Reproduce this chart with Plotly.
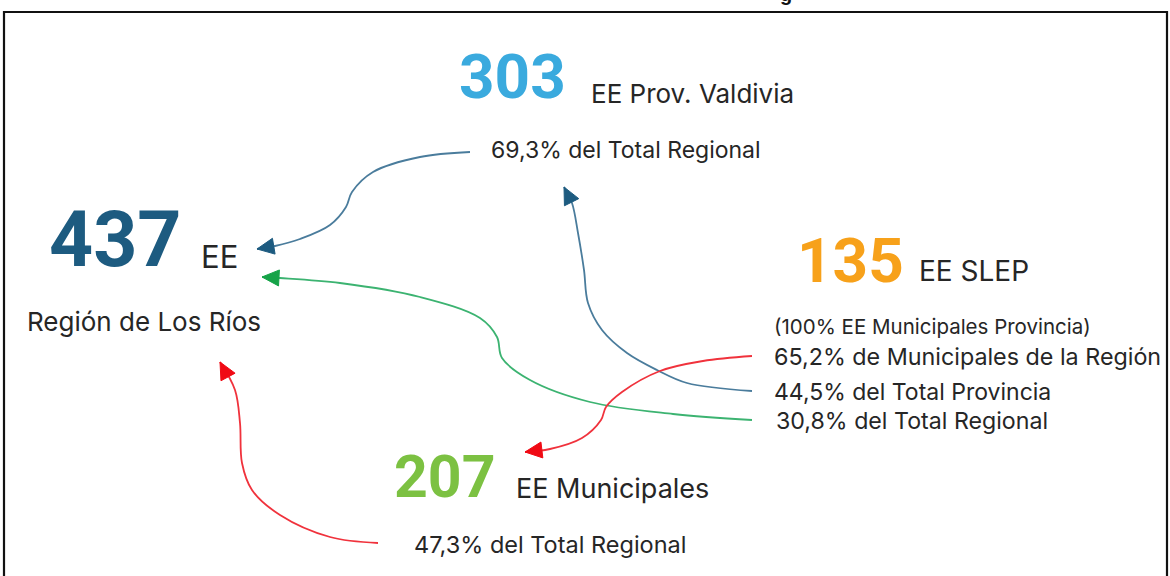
import math
import plotly.graph_objects as go

# ---- data ----
totals = [437, 303, 135, 207]
total_labels = ["EE", "EE Prov. Valdivia", "EE SLEP", "EE Municipales"]
sub_labels = [
    "Región de Los Ríos",
    "69,3% del Total Regional",
    "(100% EE Municipales Provincia)",
    "47,3% del Total Regional",
]
slep_shares = [
    "65,2% de Municipales de la Región",
    "44,5% del Total Provincia",
    "30,8% del Total Regional",
]

# ---- layout (pixel space) ----
W, H = 1170, 576
FONT = "Inter"
NUM_FONT = "Roboto"
TXT = "#262626"
num_colors = ["#1d5b80", "#3aaade", "#f7a11a", "#7cc142"]

# arrow paths (control points), tip last
path_prov_region = ([470, 420, 373, 352, 346, 330, 300, 275, 257],
                    [152, 157, 172, 192, 207, 225, 239, 246, 249])
path_slep_region = ([752, 673, 590, 530, 502, 497, 480, 420, 340, 280, 262],
                    [420, 414, 402, 380, 358, 337, 318, 297, 283, 278, 277])
path_slep_prov = ([752, 687, 657, 627, 602, 588, 584, 578, 572, 564],
                  [391, 383, 370, 353, 330, 303, 270, 233, 203, 187])
path_slep_muni = ([752, 703, 660, 622, 606, 601, 582, 550, 525],
                  [356, 361, 371, 392, 407, 420, 438, 449, 452])
path_muni_region = ([378, 330, 280, 252, 242, 240, 235, 220],
                    [543, 537, 515, 490, 463, 423, 390, 362])

arrows = [
    (path_prov_region, "#4a7c9c", "#1d5b80"),
    (path_slep_region, "#3cb371", "#16a348"),
    (path_slep_prov, "#4a7c9c", "#1d5b80"),
    (path_slep_muni, "#f0323c", "#f00a14"),
    (path_muni_region, "#f0323c", "#f00a14"),
]

fig = go.Figure()

for (xs, ys), lc, hc in arrows:
    fig.add_trace(go.Scatter(x=xs, y=ys, mode="lines",
                             line=dict(color=lc, width=1.8, shape="spline", smoothing=1.0),
                             hoverinfo="skip", showlegend=False))
    tx, ty = xs[-1], ys[-1]
    px, py = xs[-2], ys[-2]
    d = math.hypot(tx - px, ty - py)
    ux, uy = (tx - px) / d, (ty - py) / d
    L, Wd = 17, 8
    bx, by = tx - ux * L, ty - uy * L
    nx, ny = -uy, ux
    fig.add_trace(go.Scatter(
        x=[tx, bx + nx * Wd, bx - nx * Wd, tx],
        y=[ty, by + ny * Wd, by - ny * Wd, ty],
        mode="lines", fill="toself", fillcolor=hc,
        line=dict(color=hc, width=1), hoverinfo="skip", showlegend=False))

ann = []

def add(x, y, text, size, color=TXT, bold=False, family=FONT):
    t = f"<b>{text}</b>" if bold else text
    ann.append(dict(x=x, y=y, xref="x", yref="y", text=t, showarrow=False,
                    xanchor="left", yanchor="middle",
                    font=dict(family=family, size=size, color=color)))

# big numbers
num_pos = [(47, 240, 77), (457, 76, 62), (795, 260, 62), (392, 476, 59)]
for v, (x, y, s), c in zip(totals, num_pos, num_colors):
    add(x, y, str(v), s, c, bold=True, family=NUM_FONT)

# labels next to numbers
lab_pos = [(199, 256, 31), (589, 93, 26), (917, 271, 28), (514, 488, 27)]
for t, (x, y, s) in zip(total_labels, lab_pos):
    add(x, y, t, s)

sub_pos = [(25, 321, 26), (489, 150, 23), (772, 326, 20.5), (412, 544, 23.5)]
for t, (x, y, s) in zip(sub_labels, sub_pos):
    add(x, y, t, s)

share_pos = [(772, 356, 23.3), (772, 392, 23), (774, 421, 23.2)]
for t, (x, y, s) in zip(slep_shares, share_pos):
    add(x, y, t, s)

# cut-off title fragment at the top
ann.append(dict(x=786 / W, y=1 + 6 / H, xref="paper", yref="paper", text="<b>g</b>",
                showarrow=False, xanchor="center", yanchor="middle",
                font=dict(family="Liberation Sans", size=20, color="#111111")))

fig.update_layout(
    width=W, height=H,
    margin=dict(l=0, r=0, t=0, b=0),
    paper_bgcolor="white", plot_bgcolor="white",
    xaxis=dict(range=[0, W], visible=False, fixedrange=True),
    yaxis=dict(range=[H, 0], visible=False, fixedrange=True),
    annotations=ann,
    shapes=[dict(type="rect", xref="x", yref="y", x0=4, x1=1167, y0=12, y1=H + 10,
                 line=dict(color="#111111", width=2.2), layer="above")],
)

fig.write_html("out.html", config={"displayModeBar": False},
               post_script="document.body.style.margin='0';document.body.style.padding='0';")
